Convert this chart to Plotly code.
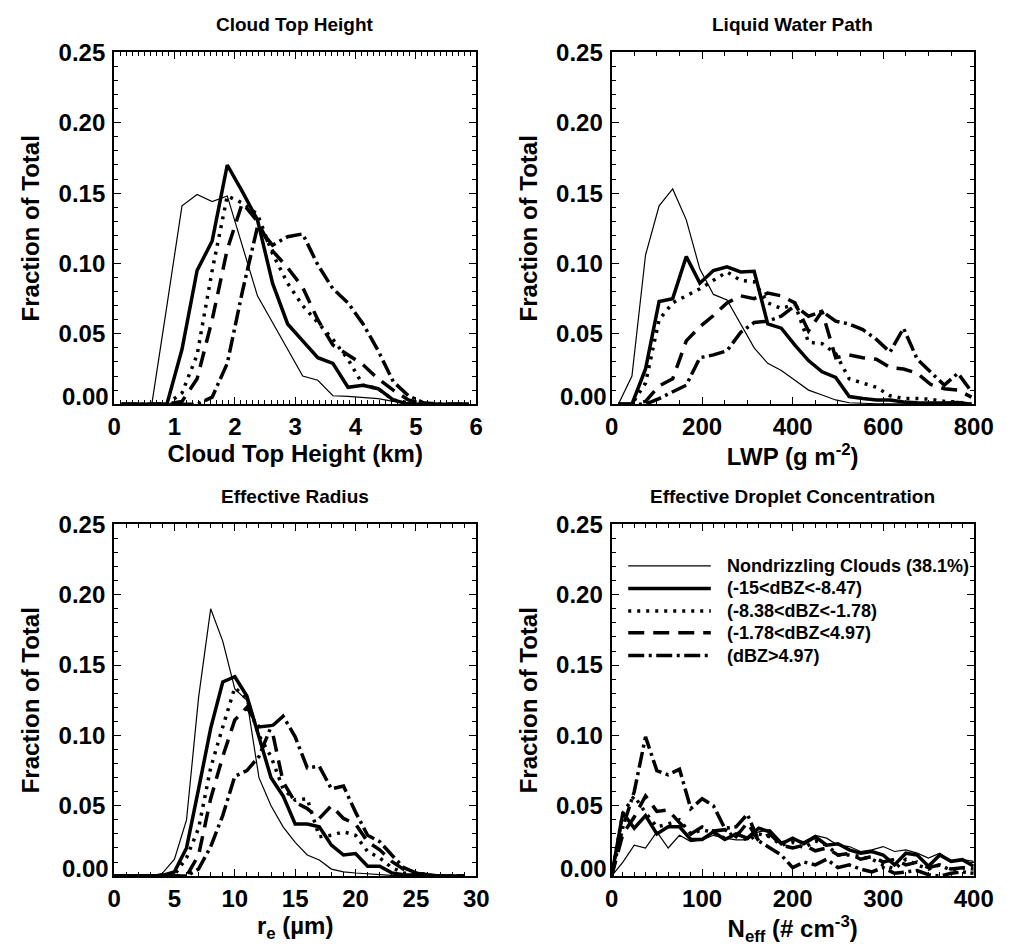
import plotly.graph_objects as go

# ---------------- data ----------------
series_names = ["Nondrizzling Clouds (38.1%)", "(-15<dBZ<-8.47)", "(-8.38<dBZ<-1.78)",
                "(-1.78<dBZ<4.97)", "(dBZ>4.97)"]

panel_titles = ["Cloud Top Height", "Liquid Water Path", "Effective Radius",
                "Effective Droplet Concentration"]
x_titles = ["Cloud Top Height (km)", "LWP (g m<sup>-2</sup>)", "r<sub>e</sub> (\u00b5m)",
            "N<sub>eff</sub> (# cm<sup>-3</sup>)"]
y_title = "Fraction of Total"
y_tickvals = [0.0, 0.05, 0.10, 0.15, 0.20, 0.25]
y_ticktext = ["", "0.05", "0.10", "0.15", "0.20", "0.25"]
y_zero_label = "0.00"

# Cloud top height (km)
cth_x = [0.125, 0.375, 0.625, 0.875, 1.125, 1.375, 1.625, 1.875, 2.125, 2.375, 2.625, 2.875,
         3.125, 3.375, 3.625, 3.875, 4.125, 4.375, 4.625, 4.875, 5.125, 5.375, 5.625, 5.875]
cth_nodriz = [0, 0, 0, 0.070, 0.141, 0.149, 0.144, 0.148, 0.112, 0.077, 0.058, 0.039,
              0.020, 0.017, 0.006, 0.0055, 0.005, 0.004, 0.002, 0.001, 0, 0, 0, 0]
cth_s1 = [0, 0, 0, 0, 0.039, 0.095, 0.116, 0.170, 0.151, 0.131, 0.086, 0.057,
          0.045, 0.033, 0.029, 0.012, 0.0135, 0.011, 0.003, 0, 0, 0, 0, 0]
cth_s2 = [0, 0, 0, 0, 0.008, 0.035, 0.095, 0.148, 0.143, 0.135, 0.107, 0.086,
          0.070, 0.058, 0.046, 0.032, 0.0135, 0.011, 0.003, 0.001, 0, 0, 0, 0]
cth_s3 = [0, 0, 0, 0, 0.002, 0.018, 0.060, 0.110, 0.143, 0.130, 0.109, 0.097,
          0.083, 0.060, 0.042, 0.035, 0.028, 0.018, 0.010, 0.003, 0, 0, 0, 0]
cth_s4 = [0, 0, 0, 0, 0, 0, 0.005, 0.029, 0.080, 0.126, 0.113, 0.119,
          0.121, 0.099, 0.082, 0.072, 0.057, 0.038, 0.016, 0.006, 0.001, 0, 0, 0]

# Liquid water path (g m-2)
lwp_x = [15, 45, 75, 105, 135, 165, 195, 225, 255, 285, 315, 345, 375, 405, 435, 465, 495,
         525, 555, 585, 615, 645, 675, 705, 735, 765, 795]
lwp_nodriz = [0, 0.020, 0.106, 0.141, 0.153, 0.131, 0.096, 0.078, 0.074, 0.057, 0.040, 0.029,
              0.024, 0.017, 0.010, 0.0065, 0.003, 0.001, 0.0005, 0.0003, 0.0002, 0, 0, 0, 0, 0, 0]
lwp_s1 = [0, 0, 0.025, 0.073, 0.075, 0.105, 0.086, 0.095, 0.0976, 0.094, 0.0945, 0.057,
          0.054, 0.042, 0.031, 0.023, 0.019, 0.0054, 0.004, 0.003, 0.003, 0.0015, 0.001,
          0.0008, 0.0008, 0.0012, 0]
lwp_s2 = [0, 0, 0.015, 0.060, 0.072, 0.077, 0.082, 0.088, 0.094, 0.088, 0.087, 0.072,
          0.068, 0.071, 0.044, 0.043, 0.036, 0.018, 0.015, 0.012, 0.006, 0.004, 0.004,
          0.0035, 0.002, 0.0015, 0]
lwp_s3 = [0, 0, 0.002, 0.013, 0.018, 0.045, 0.055, 0.063, 0.072, 0.077, 0.075, 0.079,
          0.077, 0.072, 0.052, 0.066, 0.033, 0.035, 0.033, 0.032, 0.026, 0.025, 0.022,
          0.014, 0.011, 0.010, 0.005]
lwp_s4 = [0, 0, 0, 0.004, 0.009, 0.0135, 0.033, 0.035, 0.038, 0.051, 0.058, 0.059,
          0.0626, 0.070, 0.0625, 0.066, 0.059, 0.057, 0.053, 0.046, 0.037, 0.054, 0.032,
          0.023, 0.0135, 0.022, 0.009]

# Effective radius (um)
re_x = [0, 1, 2, 3, 4, 5, 6, 7, 8, 9, 10, 11, 12, 13, 14, 15, 16, 17, 18, 19, 20, 21, 22,
        23, 24, 25, 26, 27, 28, 29]
re_nodriz = [0, 0, 0, 0, 0.002, 0.012, 0.040, 0.127, 0.190, 0.167, 0.133, 0.125, 0.070, 0.050,
             0.035, 0.024, 0.015, 0.0115, 0.005, 0.003, 0.0022, 0.0015, 0.001, 0.0005, 0, 0,
             0, 0, 0, 0]
re_s1 = [0, 0, 0, 0, 0.0005, 0.003, 0.020, 0.062, 0.105, 0.138, 0.1417, 0.128, 0.098, 0.070,
         0.057, 0.037, 0.037, 0.035, 0.022, 0.015, 0.016, 0.007, 0.007, 0.0023, 0.001,
         0.0005, 0, 0, 0, 0]
re_s2 = [0, 0, 0, 0, 0, 0.001, 0.013, 0.034, 0.077, 0.106, 0.134, 0.126, 0.100, 0.085, 0.062,
         0.054, 0.055, 0.028, 0.029, 0.0315, 0.029, 0.0175, 0.013, 0.006, 0.0023, 0.001,
         0, 0, 0, 0]
re_s3 = [0, 0, 0, 0, 0, 0, 0, 0.015, 0.055, 0.085, 0.111, 0.120, 0.106, 0.107, 0.067,
         0.0525, 0.048, 0.041, 0.050, 0.041, 0.037, 0.0245, 0.0187, 0.0105, 0.0047, 0.002,
         0.001, 0, 0, 0]
re_s4 = [0, 0, 0, 0, 0, 0, 0, 0.005, 0.021, 0.043, 0.071, 0.075, 0.085, 0.106, 0.1137,
         0.099, 0.077, 0.078, 0.062, 0.064, 0.0455, 0.029, 0.0245, 0.015, 0.006, 0.0023,
         0.001, 0, 0, 0]

# Effective droplet concentration (# cm-3)
neff_x = [0, 12.5, 25, 37.5, 50, 62.5, 75, 87.5, 100, 112.5, 125, 137.5, 150, 162.5, 175,
          187.5, 200, 212.5, 225, 237.5, 250, 262.5, 275, 287.5, 300, 312.5, 325, 337.5,
          350, 362.5, 375, 387.5, 400]
neff_nodriz = [0, 0.010, 0.022, 0.020, 0.0315, 0.020, 0.029, 0.0245, 0.0257, 0.029, 0.027,
               0.0257, 0.0257, 0.0315, 0.033, 0.0245, 0.0257, 0.0245, 0.029, 0.027, 0.022,
               0.021, 0.0175, 0.0187, 0.021, 0.0175, 0.0187, 0.0163, 0.0128, 0.0163,
               0.0105, 0.0117, 0.0105]
neff_s1 = [0, 0.045, 0.034, 0.043, 0.030, 0.035, 0.035, 0.026, 0.026, 0.0315, 0.026, 0.030,
           0.027, 0.034, 0.0315, 0.023, 0.027, 0.023, 0.028, 0.022, 0.023, 0.0187, 0.0163,
           0.0175, 0.015, 0.008, 0.0163, 0.015, 0.007, 0.015, 0.0105, 0.0117, 0.007]
neff_s2 = [0, 0.045, 0.057, 0.045, 0.035, 0.037, 0.040, 0.030, 0.033, 0.031, 0.027, 0.032,
           0.025, 0.030, 0.028, 0.022, 0.024, 0.020, 0.025, 0.022, 0.015, 0.015, 0.014,
           0.012, 0.008, 0.005, 0.012, 0.008, 0.005, 0.008, 0.004, 0.006, 0.005]
neff_s3 = [0, 0.030, 0.042, 0.057, 0.046, 0.047, 0.038, 0.030, 0.035, 0.032, 0.033, 0.028,
           0.038, 0.025, 0.030, 0.022, 0.020, 0.022, 0.018, 0.020, 0.015, 0.016, 0.012,
           0.014, 0.010, 0.012, 0.008, 0.010, 0.006, 0.008, 0.005, 0.006, 0.004]
neff_s4 = [0, 0.035, 0.060, 0.099, 0.075, 0.072, 0.076, 0.048, 0.055, 0.050, 0.034, 0.035,
           0.044, 0.025, 0.020, 0.015, 0.006, 0.010, 0.008, 0.012, 0.006, 0.008, 0.005,
           0.003, 0.006, 0.002, 0.003, 0.004, 0.001, 0.0, 0.002, 0.003, 0.002]

panels = [
    (cth_x, [cth_nodriz, cth_s1, cth_s2, cth_s3, cth_s4]),
    (lwp_x, [lwp_nodriz, lwp_s1, lwp_s2, lwp_s3, lwp_s4]),
    (re_x, [re_nodriz, re_s1, re_s2, re_s3, re_s4]),
    (neff_x, [neff_nodriz, neff_s1, neff_s2, neff_s3, neff_s4]),
]

# ---------------- styling ----------------
W, H = 1021, 951
FONT = "Liberation Sans, Arial, Helvetica, sans-serif"


def bfont(size):
    return dict(family=FONT, size=size, color="black", weight="bold")


styles = [
    dict(width=1.2, dash="solid"),
    dict(width=3.5, dash="solid"),
    dict(width=3.5, dash="3px,6px"),
    dict(width=3.5, dash="16px,9px"),
    dict(width=3.5, dash="16px,4.5px,3px,4.5px"),
]

# pixel boxes (left, right, top, bottom)
boxes = [(110, 482, 39, 396), (621, 993, 39, 396), (110, 482, 518, 875), (621, 993, 518, 875)]
xranges = [[0, 6], [0, 800], [0, 30], [0, 400]]
xdticks = [1, 200, 5, 100]
xminor = [0.1, 50, 1, 12.5]

fig = go.Figure()
for i, (xs, ys_list) in enumerate(panels):
    ax = "" if i == 0 else str(i + 1)
    for name, ys, st in zip(series_names, ys_list, styles):
        fig.add_trace(go.Scatter(x=xs, y=ys, mode="lines", name=name, showlegend=False,
                                 line=dict(color="black", width=st["width"], dash=st["dash"]),
                                 xaxis="x" + ax, yaxis="y" + ax))
    l, r, t, b = boxes[i]
    common = dict(showline=True, linecolor="black", linewidth=2, mirror="allticks",
                  ticks="inside", tickcolor="black", tickwidth=1.2, showgrid=False,
                  zeroline=False, tickfont=bfont(24))
    fig.layout["xaxis" + ax] = dict(
        domain=[l / W, r / W], anchor="y" + ax, range=xranges[i], dtick=xdticks[i], tick0=0,
        ticklen=7, minor=dict(dtick=xminor[i], tick0=0, ticklen=4, ticks="inside",
                              tickcolor="black", tickwidth=1.2),
        title=dict(text=x_titles[i], font=bfont(24), standoff=2),
        **common)
    fig.layout["yaxis" + ax] = dict(
        domain=[1 - b / H, 1 - t / H], anchor="x" + ax, range=[0, 0.25],
        tickmode="array", tickvals=y_tickvals, ticktext=y_ticktext, ticklen=7,
        ticklabelstandoff=2,
        minor=dict(dtick=0.01, tick0=0, ticklen=4, ticks="inside", tickcolor="black",
                   tickwidth=1.2),
        title=dict(text=y_title, font=bfont(24), standoff=12),
        **common)
    # the 0.00 label sits a little above its tick in the original
    fig.add_annotation(x=(l - 4) / W, y=1 - (b - 8) / H, xref="paper", yref="paper",
                       text=y_zero_label, showarrow=False, xanchor="right", yanchor="middle",
                       font=bfont(24), borderpad=0)
    fig.add_annotation(x=(l + r) / 2 / W, y=1 - (t - 28) / H, xref="paper", yref="paper",
                       text=panel_titles[i], showarrow=False, xanchor="center", yanchor="middle",
                       font=bfont(19))

# legend inside last panel (drawn in panel-domain coordinates)
leg_rows = [0.882, 0.818, 0.7535, 0.692, 0.627]
for name, st, yy in zip(series_names, styles, leg_rows):
    fig.add_shape(type="line", xref="x4 domain", yref="y4 domain", x0=0.046, x1=0.274,
                  y0=yy, y1=yy, line=dict(color="black", width=st["width"], dash=st["dash"]))
    fig.add_annotation(xref="x4 domain", yref="y4 domain", x=0.3145, y=yy, text=name,
                       showarrow=False, xanchor="left", yanchor="middle", font=bfont(18))

fig.update_layout(width=W, height=H, margin=dict(l=0, r=0, t=0, b=0), autosize=False,
                  paper_bgcolor="white", plot_bgcolor="white",
                  font=dict(family=FONT, color="black", weight="bold"))
fig.write_html("out.html")
